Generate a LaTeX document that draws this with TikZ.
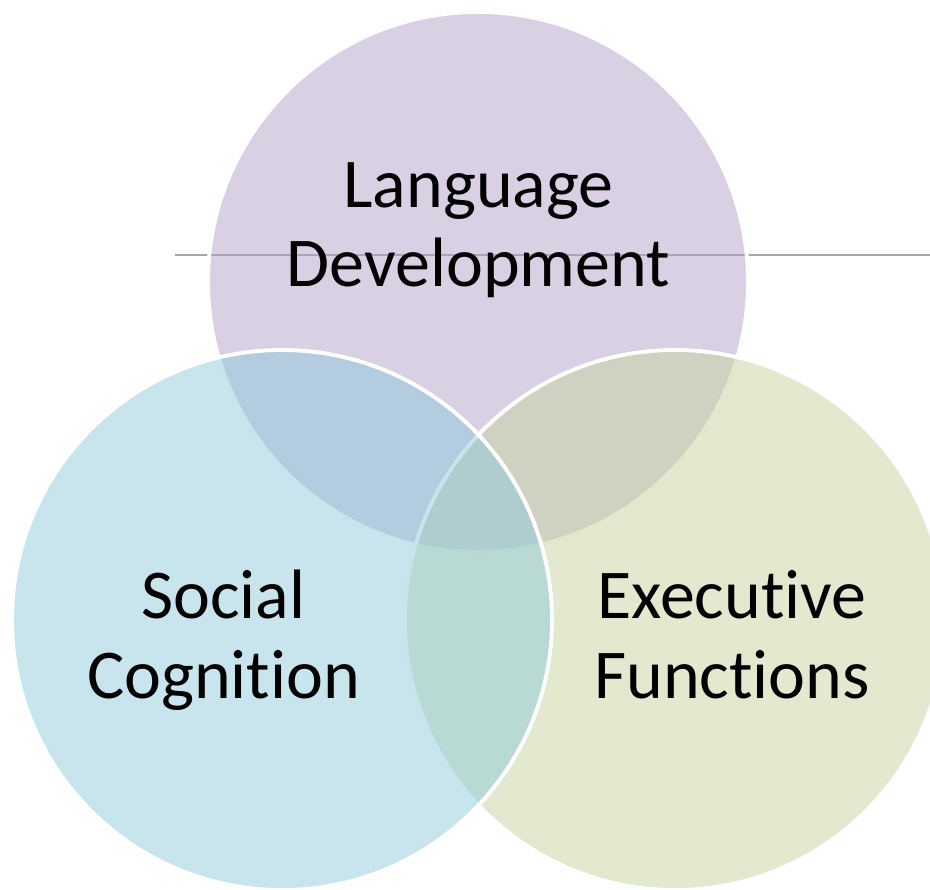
\documentclass[tikz,border=0pt]{standalone}
\usepackage{fontspec}
\setmainfont[Ligatures={NoCommon}]{Carlito}
\usepackage{tikz}
\definecolor{langpurple}{RGB}{179,161,201}
\definecolor{execgreen}{RGB}{197,211,159}
\definecolor{socialblue}{RGB}{145,201,219}
\definecolor{rulegrey}{RGB}{166,166,166}
\tikzset{
  venn/.style={circle, minimum size=5.4cm, inner sep=0pt, draw=white, line width=1.1pt, fill opacity=0.5},
  venntext/.style={anchor=base, align=center, inner sep=0pt, font=\fontsize{19.9}{22.5}\selectfont}
}

\begin{document}
\begin{tikzpicture}
    \clip (0,0) rectangle (9.3,-8.9);
    % thin rule behind the top circle
    \coordinate (rulestart) at (1.75,-2.55);
    \coordinate (ruleend) at (9.3,-2.55);
    \draw[rulegrey, line width=0.4pt] (rulestart) -- (ruleend);
    % circles: top, right, left
    \node[venn, fill=langpurple] (lang) at (4.78,-2.82) {};
    \node[venn, fill=execgreen] (exec) at (6.75,-6.20) {};
    \node[venn, fill=socialblue] (social) at (2.82,-6.20) {};
    % labels (base = last line)
    \node[venntext] (langtext) at (4.785,-2.87) {Language\\Development};
    \node[venntext] (socialtext) at (2.235,-6.98) {Social\\Cognition};
    \node[venntext] (exectext) at (7.32,-6.98) {Executive\\Functions};
\end{tikzpicture}
\end{document}
